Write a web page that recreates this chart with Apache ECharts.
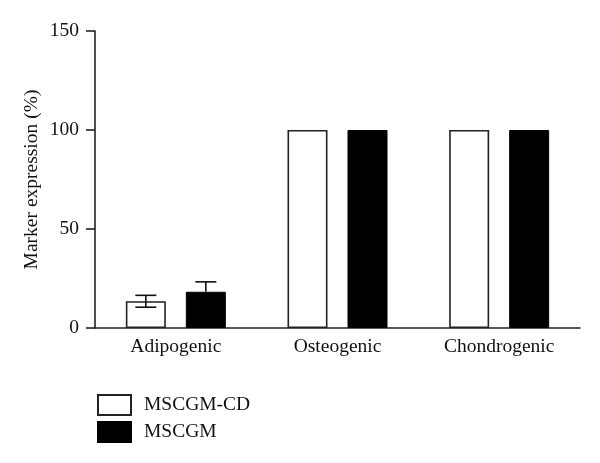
<!DOCTYPE html>
<html><head><meta charset="utf-8">
<script src="https://cdn.jsdelivr.net/npm/echarts@6/dist/echarts.min.js"></script>
<style>html,body{margin:0;padding:0;background:#fff}#c{width:600px;height:463px}</style>
</head><body><div id="c"></div>
<script>
var categories = ['Adipogenic', 'Osteogenic', 'Chondrogenic'];
var seriesNames = ['MSCGM-CD', 'MSCGM'];
var cdValues = [13.5, 100, 100];
var cdErrors = [3, 0, 0];
var gmValues = [18.3, 100, 100];
var gmErrors = [5, 0, 0];
var yTicks = [0, 50, 100, 150];

var FONT = '"Liberation Serif", "DejaVu Serif", serif';
var FS = 19.5;
var BAR_W = 40, GAP = 20;
var chart = echarts.init(document.getElementById('c'));

function errSeries(values, errors, offset, upperOnly) {
  var data = [];
  values.forEach(function (v, i) { if (errors[i] > 0) data.push([i, v, errors[i]]); });
  return {
    type: 'custom', silent: true, z: 5,
    data: data,
    renderItem: function (params, api) {
      var i = api.value(0), v = api.value(1), e = api.value(2);
      var top = api.coord([i, v + e]);
      var mid = api.coord([i, v]);
      var bot = api.coord([i, v - e]);
      var x = top[0] + offset;
      var hw = 10.5;
      var st = { stroke: '#111', lineWidth: 1.6 };
      var kids = [
        { type: 'line', shape: { x1: x, y1: top[1], x2: x, y2: upperOnly ? mid[1] : bot[1] }, style: st },
        { type: 'line', shape: { x1: x - hw, y1: top[1], x2: x + hw, y2: top[1] }, style: st }
      ];
      if (!upperOnly) kids.push({ type: 'line', shape: { x1: x - hw, y1: bot[1], x2: x + hw, y2: bot[1] }, style: st });
      return { type: 'group', children: kids };
    }
  };
}

chart.setOption({
  animation: false,
  backgroundColor: '#fff',
  grid: { left: 95, right: 20, top: 31, bottom: 135 },
  legend: {
    orient: 'vertical', left: 97, top: 394, padding: 0, itemWidth: 33, itemHeight: 20, itemGap: 5,
    icon: 'rect',
    textStyle: { fontFamily: FONT, fontSize: FS, color: '#111', padding: [0, 0, 0, 8] },
    data: seriesNames
  },
  xAxis: {
    type: 'category', data: categories,
    axisLine: { lineStyle: { color: '#222', width: 1.6 } },
    axisTick: { show: false },
    axisLabel: { fontFamily: FONT, fontSize: FS, color: '#111', margin: 9 }
  },
  yAxis: {
    type: 'value', min: 0, max: 150, interval: 50,
    name: 'Marker expression (%)', nameLocation: 'middle', nameGap: 53, nameMoveOverlap: false,
    nameTextStyle: { fontFamily: FONT, fontSize: FS, color: '#111' },
    axisLine: { show: true, lineStyle: { color: '#222', width: 1.6 } },
    axisTick: { show: true, length: 9, lineStyle: { color: '#222', width: 1.6 } },
    axisLabel: { fontFamily: FONT, fontSize: FS, color: '#111', margin: 16,
      formatter: function (v) { return yTicks.indexOf(v) >= 0 ? String(v) : ''; } },
    splitLine: { show: false }
  },
  series: [
    { name: seriesNames[0], type: 'bar', data: cdValues, barWidth: BAR_W, barGap: (GAP / BAR_W * 100) + '%',
      itemStyle: { color: '#fff', borderColor: '#222', borderWidth: 1.6 } },
    { name: seriesNames[1], type: 'bar', data: gmValues, barWidth: BAR_W, barGap: (GAP / BAR_W * 100) + '%',
      itemStyle: { color: '#000', borderColor: '#000', borderWidth: 1 } },
    errSeries(cdValues, cdErrors, -(BAR_W + GAP) / 2, false),
    errSeries(gmValues, gmErrors, (BAR_W + GAP) / 2, true)
  ]
});
</script></body></html>
